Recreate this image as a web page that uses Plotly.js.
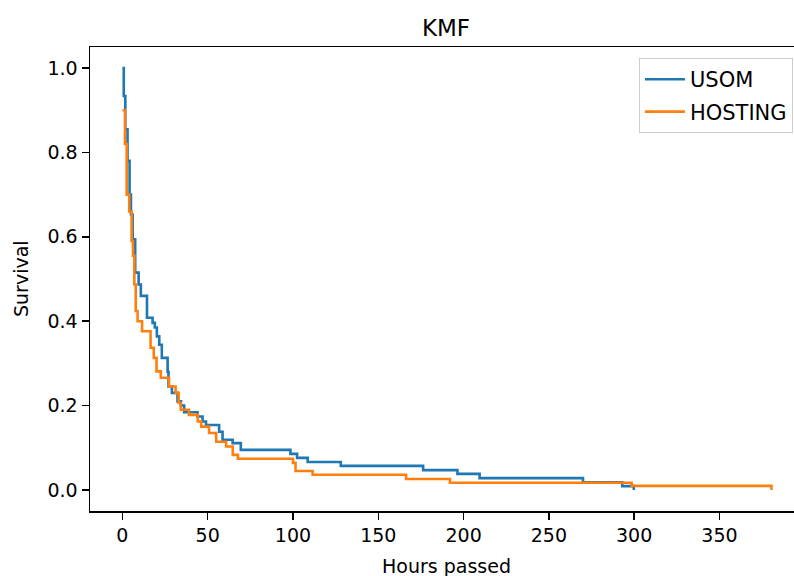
<!DOCTYPE html>
<html>
<head>
<meta charset="utf-8">
<script src="https://cdn.plot.ly/plotly-3.0.1.min.js"></script>
<style>html,body{margin:0;padding:0;background:#fff;overflow:hidden}</style>
</head>
<body>
<div id="chart" style="width:794px;height:576px"></div>
<script>
// USOM Kaplan-Meier survival estimate (hours, survival)
const usomTime = [0, 0.8, 1.7, 3.0, 4.2, 5.0, 6.0, 7.5, 9.5, 10.8, 14.4, 17.7, 19.0, 20.2, 21.6, 23.1, 26.5, 27.0, 29.0, 32.3, 34.3, 36.2, 44.0, 47.0, 49.0, 56.7, 58.7, 64.6, 69.4, 98.5, 102.4, 108.6, 128.0, 176.3, 196.4, 209.4, 270.0, 293.0, 299.8];
const usomSurv = [1.0, 0.934, 0.855, 0.78, 0.70, 0.653, 0.594, 0.515, 0.487, 0.46, 0.408, 0.396, 0.385, 0.364, 0.344, 0.313, 0.28, 0.245, 0.23, 0.21, 0.20, 0.184, 0.174, 0.162, 0.154, 0.138, 0.119, 0.111, 0.095, 0.0855, 0.076, 0.066, 0.057, 0.047, 0.038, 0.028, 0.018, 0.009, 0.0];

// HOSTING Kaplan-Meier survival estimate (hours, survival)
const hostTime = [0, 1.5, 2.5, 4.0, 5.4, 6.2, 7.0, 7.8, 8.9, 11.5, 16.5, 18.4, 20.0, 22.5, 27.3, 31.2, 33.0, 34.2, 39.0, 44.2, 46.2, 50.8, 55.0, 60.8, 64.7, 67.7, 100.0, 101.5, 111.5, 166.3, 192.0, 298.5, 380.5];
const hostSurv = [0.90, 0.82, 0.70, 0.66, 0.59, 0.555, 0.487, 0.424, 0.40, 0.376, 0.337, 0.313, 0.281, 0.266, 0.245, 0.23, 0.206, 0.19, 0.178, 0.162, 0.15, 0.135, 0.114, 0.103, 0.083, 0.074, 0.064, 0.045, 0.036, 0.026, 0.017, 0.0095, 0.0];

const seriesNames = ["USOM", "HOSTING"];
const xTicks = [0, 50, 100, 150, 200, 250, 300, 350];
const yTicks = [0.0, 0.2, 0.4, 0.6, 0.8, 1.0];

const font = "DejaVu Sans, sans-serif";

const traces = [
  {x: usomTime, y: usomSurv, name: seriesNames[0], legendgroup: "a", type: "scatter", mode: "lines",
   line: {shape: "hv", color: "#1f77b4", width: 2.6}},
  {x: hostTime, y: hostSurv, name: seriesNames[1], legendgroup: "b", type: "scatter", mode: "lines",
   line: {shape: "hv", color: "#ff7f0e", width: 2.6}}
];

const layout = {
  width: 794, height: 576,
  margin: {l: 90, r: 0, t: 47, b: 65},
  paper_bgcolor: "#fff", plot_bgcolor: "#fff",
  font: {family: font, size: 19, color: "#000"},
  title: {text: "KMF", font: {family: font, size: 23, color: "#000"},
          x: 446/794, xanchor: "center", xref: "container", y: 1 - 28/576, yanchor: "middle", yref: "container"},
  xaxis: {range: [-19, 393.7], tickvals: xTicks, ticktext: xTicks.map(String),
          showgrid: false, zeroline: false, showline: true, linecolor: "#000", linewidth: 1.5,
          mirror: true, ticks: "outside", ticklen: 7, tickwidth: 1.5, tickcolor: "#000",
          tickfont: {family: font, size: 19}},
  yaxis: {range: [-0.05, 1.05], tickvals: yTicks, ticktext: yTicks.map(v => v.toFixed(1)),
          showgrid: false, zeroline: false, showline: true, linecolor: "#000", linewidth: 1.5,
          mirror: false, ticks: "outside", ticklen: 7, tickwidth: 1.5, tickcolor: "#000",
          tickfont: {family: font, size: 19}},
  showlegend: true,
  legend: {x: 0.9985, xanchor: "right", y: 0.976, yanchor: "top",
           bgcolor: "rgba(255,255,255,0.8)", bordercolor: "#cccccc", borderwidth: 1,
           tracegroupgap: 2, itemwidth: 40,
           font: {family: font, size: 21}},
  annotations: [
    {text: "Hours passed", xref: "paper", yref: "paper", x: (446-90)/704, y: 0,
     xanchor: "center", yanchor: "middle", yshift: -55, showarrow: false,
     font: {family: font, size: 19}},
    {text: "Survival", xref: "paper", yref: "paper", x: 0, y: 0.5, textangle: -90,
     xanchor: "center", yanchor: "middle", xshift: -69, showarrow: false,
     font: {family: font, size: 19}}
  ]
};

Plotly.newPlot("chart", traces, layout, {displayModeBar: false, staticPlot: true});
</script>
</body>
</html>
